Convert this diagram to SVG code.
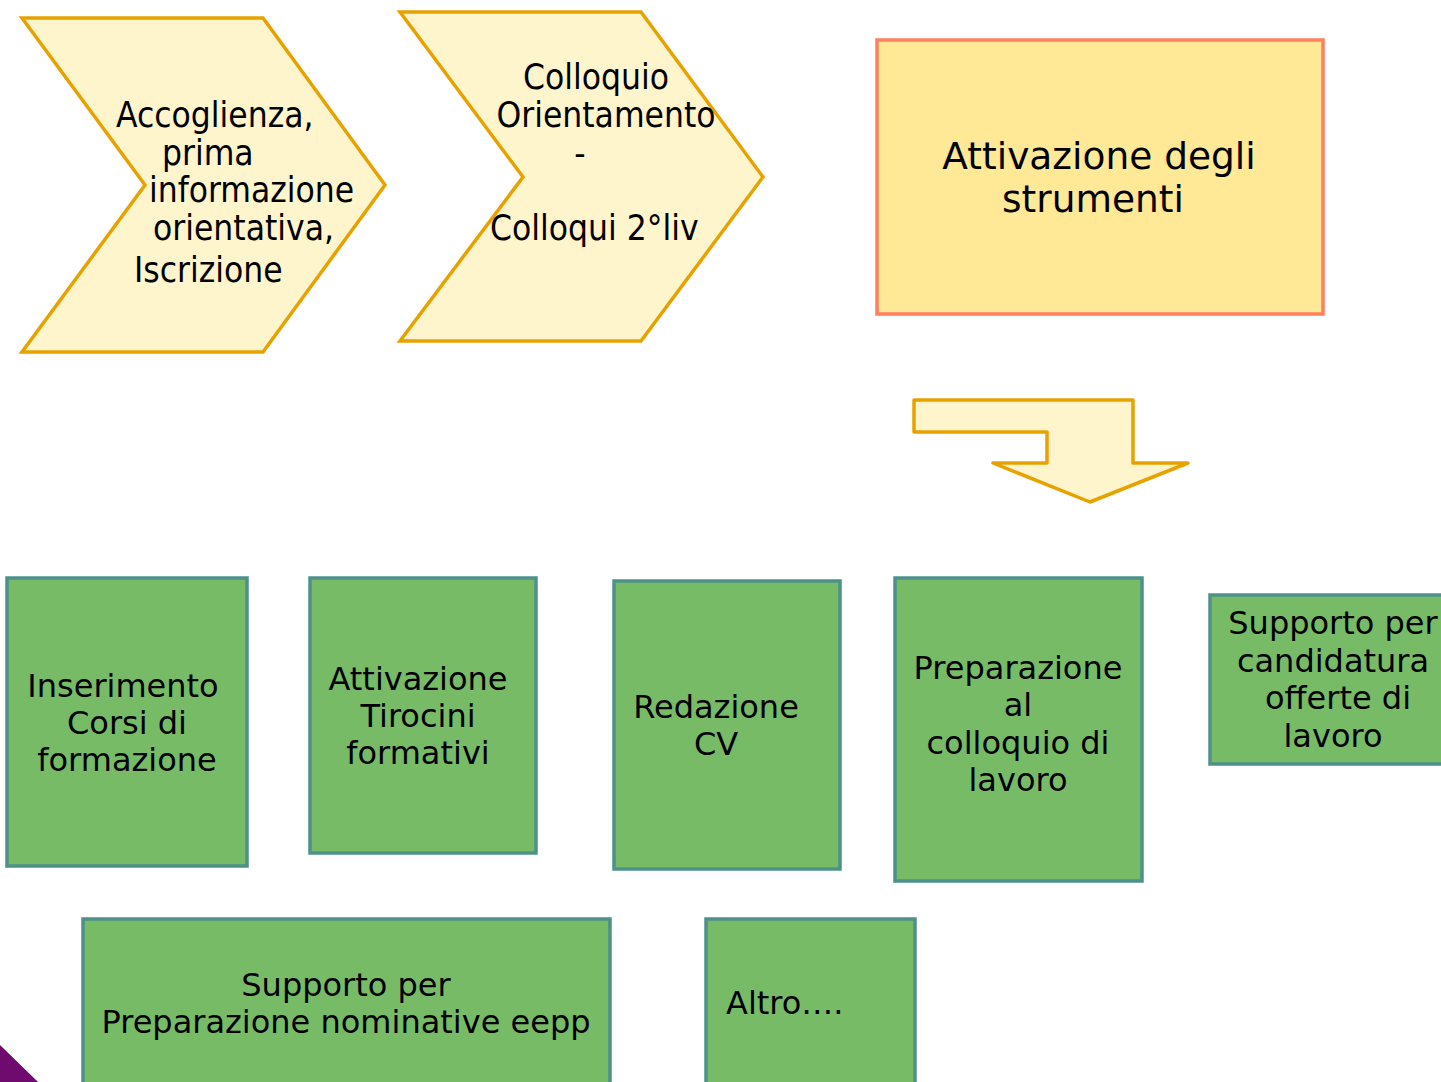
<svg xmlns="http://www.w3.org/2000/svg" width="1441" height="1082" viewBox="0 0 1441 1082">
<style>
.chev{fill:#FFF5CC;stroke:#E8A200;stroke-width:3.5;stroke-linejoin:miter}
.arrow{fill:#FFF5CC;stroke:#E8A200;stroke-width:3.5;stroke-linejoin:round}
.green{fill:#77BB66;stroke:#4E918A;stroke-width:3.5}
.yrect{fill:#FFE896;stroke:#FF7F5F;stroke-width:3.5}
.ct{font-family:"DejaVu Sans Condensed","DejaVu Sans",sans-serif;font-stretch:condensed;font-size:35px;fill:#000}
.mid{text-anchor:middle}
.gt{font-family:"DejaVu Sans",sans-serif;font-size:32px;fill:#000}
.yt{font-family:"DejaVu Sans",sans-serif;font-size:37.5px;fill:#000;text-anchor:middle}
</style>
<rect width="1441" height="1082" fill="#ffffff"/>
<g id="chevron1">
<polygon class="chev" points="22,18 263,18 385,185 263,352 22,352 145,185"/>
<text class="ct" x="116" y="127">Accoglienza,</text>
<text class="ct" x="162" y="165">prima</text>
<text class="ct" x="149" y="202">informazione</text>
<text class="ct" x="153" y="240">orientativa,</text>
<text class="ct" x="134" y="282">Iscrizione</text>
</g>
<g id="chevron2">
<polygon class="chev" points="400,12 641,12 763,177 641,341 400,341 523,177"/>
<text class="ct mid" x="596" y="89">Colloquio</text>
<text class="ct mid" x="606" y="127">Orientamento</text>
<text class="ct mid" x="580" y="165">-</text>
<text class="ct" x="490" y="240">Colloqui 2°liv</text>
</g>
<g id="attivazione">
<rect class="yrect" x="877" y="40" width="446" height="274"/>
<text class="yt" x="1099" y="169">Attivazione degli</text>
<text class="yt" x="1093" y="212">strumenti</text>
</g>
<g id="connectors">
<polygon class="arrow" points="914,400 1133,400 1133,463 1188,463 1090,502 993,463 1047,463 1047,432 914,432"/>
</g>
<g id="box-inserimento">
<rect class="green" x="7" y="578" width="240" height="288"/>
<text class="gt mid" x="123" y="697">Inserimento</text>
<text class="gt mid" x="127" y="734">Corsi di</text>
<text class="gt mid" x="127" y="771">formazione</text>
</g>
<g id="box-tirocini">
<rect class="green" x="310" y="578" width="226" height="275"/>
<text class="gt mid" x="418" y="690">Attivazione</text>
<text class="gt mid" x="418" y="727">Tirocini</text>
<text class="gt mid" x="418" y="764">formativi</text>
</g>
<g id="box-cv">
<rect class="green" x="614" y="581" width="226" height="288"/>
<text class="gt mid" x="716" y="718">Redazione</text>
<text class="gt mid" x="716" y="755">CV</text>
</g>
<g id="box-colloquio">
<rect class="green" x="895" y="578" width="247" height="303"/>
<text class="gt mid" x="1018" y="679">Preparazione</text>
<text class="gt mid" x="1018" y="716">al</text>
<text class="gt mid" x="1018" y="754">colloquio di</text>
<text class="gt mid" x="1018" y="791">lavoro</text>
</g>
<g id="box-candidatura">
<rect class="green" x="1210" y="595" width="245" height="169"/>
<text class="gt mid" x="1333" y="634">Supporto per</text>
<text class="gt mid" x="1333" y="672">candidatura</text>
<text class="gt mid" x="1338" y="709">offerte di</text>
<text class="gt mid" x="1333" y="747">lavoro</text>
</g>
<g id="box-eepp">
<rect class="green" x="83" y="919" width="527" height="175"/>
<text class="gt mid" x="346" y="996">Supporto per</text>
<text class="gt mid" x="346" y="1033">Preparazione nominative eepp</text>
</g>
<g id="box-altro">
<rect class="green" x="706" y="919" width="209" height="175"/>
<text class="gt" x="726" y="1014">Altro….</text>
</g>
<polygon points="0,1045 38,1082 0,1082" fill="#6F0A6F"/>
</svg>
